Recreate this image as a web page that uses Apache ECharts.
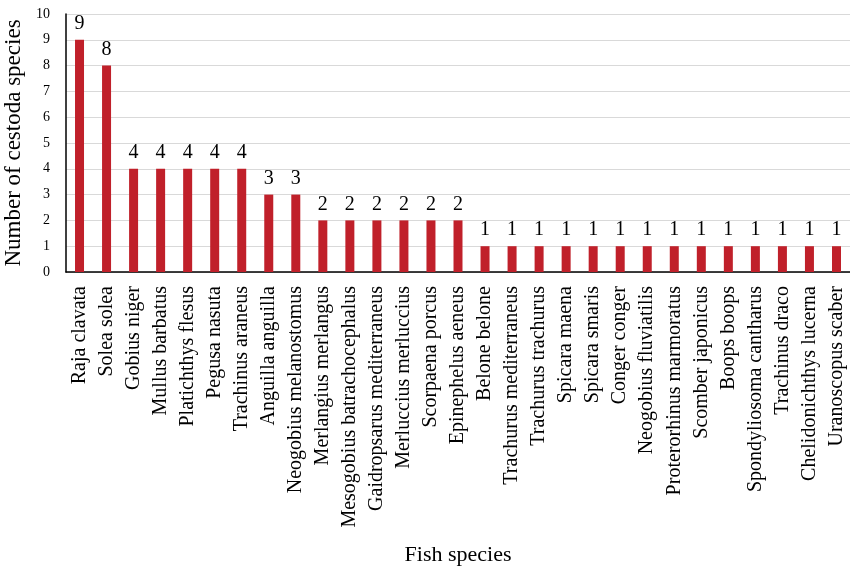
<!DOCTYPE html>
<html>
<head>
<meta charset="utf-8">
<script src="https://cdn.jsdelivr.net/npm/echarts@6/dist/echarts.min.js"></script>
<style>
  html, body { margin: 0; padding: 0; background: #fff; }
  #chart { width: 850px; height: 570px; }
</style>
</head>
<body>
<div id="chart"></div>
<script>
// Fish host species and the number of cestode species recorded in each
const fishSpecies = [
  'Raja clavata', 'Solea solea', 'Gobius niger', 'Mullus barbatus',
  'Platichthys flesus', 'Pegusa nasuta', 'Trachinus araneus', 'Anguilla anguilla',
  'Neogobius melanostomus', 'Merlangius merlangus', 'Mesogobius batrachocephalus',
  'Gaidropsarus mediterraneus', 'Merluccius merluccius', 'Scorpaena porcus',
  'Epinephelus aeneus', 'Belone belone', 'Trachurus mediterraneus',
  'Trachurus trachurus', 'Spicara maena', 'Spicara smaris', 'Conger conger',
  'Neogobius fluviatilis', 'Proterorhinus marmoratus', 'Scomber japonicus',
  'Boops boops', 'Spondyliosoma cantharus', 'Trachinus draco',
  'Chelidonichthys lucerna', 'Uranoscopus scaber'
];
const cestodaCounts = [
  9, 8, 4, 4, 4, 4, 4, 3, 3, 2, 2, 2, 2, 2, 2,
  1, 1, 1, 1, 1, 1, 1, 1, 1, 1, 1, 1, 1, 1
];
const yTicks = { min: 0, max: 10, step: 1 };

const serif = '"Liberation Serif", "DejaVu Serif", serif';
const chart = echarts.init(document.getElementById('chart'), null, { renderer: 'canvas' });

chart.setOption({
  animation: false,
  backgroundColor: '#ffffff',
  grid: {
    left: 66, right: 0, top: 14, bottom: 298,
    containLabel: false,
    outerBoundsMode: 'none'
  },
  xAxis: {
    type: 'category',
    data: fishSpecies,
    name: 'Fish species',
    nameLocation: 'middle',
    nameGap: 272,
    nameTextStyle: { fontFamily: serif, fontSize: 22, color: '#000' },
    axisLine: { show: true, lineStyle: { color: '#000', width: 1.5 } },
    axisTick: { show: false },
    axisLabel: {
      interval: 0,
      rotate: 90,
      margin: 14,
      fontFamily: serif,
      fontSize: 20,
      color: '#000'
    },
    splitLine: { show: false }
  },
  yAxis: {
    type: 'value',
    min: yTicks.min,
    max: yTicks.max,
    interval: yTicks.step,
    name: 'Number of cestoda species',
    nameLocation: 'middle',
    nameGap: 35,
    nameTextStyle: { fontFamily: serif, fontSize: 23, color: '#000' },
    axisLine: { show: true, lineStyle: { color: '#000', width: 1.5 } },
    axisTick: { show: false },
    axisLabel: { margin: 16, fontFamily: serif, fontSize: 14, color: '#000' },
    splitLine: { show: true, lineStyle: { color: '#d9d9d9', width: 1 } }
  },
  series: [{
    type: 'bar',
    data: cestodaCounts,
    barWidth: 9,
    itemStyle: { color: '#c0202a' },
    label: {
      show: true,
      position: 'top',
      distance: 6,
      fontFamily: serif,
      fontSize: 20,
      color: '#000'
    }
  }]
});
</script>
</body>
</html>
